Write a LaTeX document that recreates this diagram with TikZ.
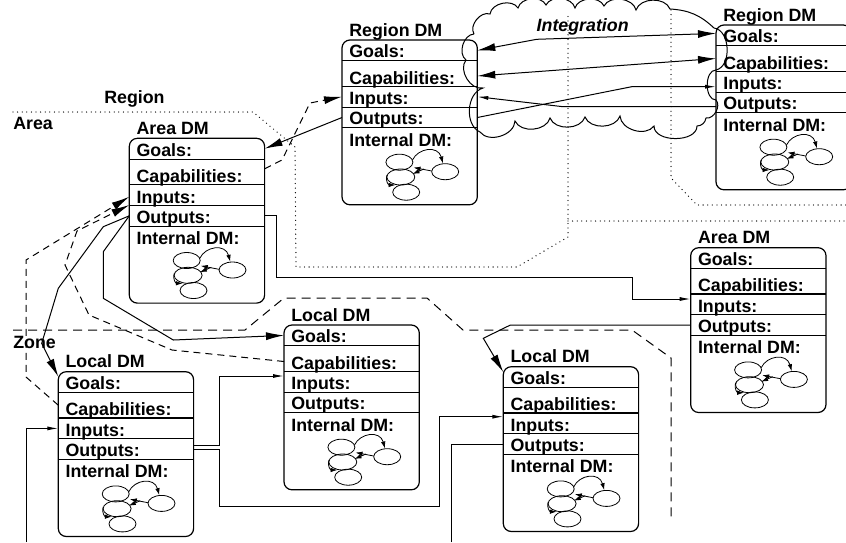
\documentclass[tikz,border=0pt]{standalone}
\usepackage{fontspec}
\setmainfont{Liberation Sans}
\usetikzlibrary{arrows.meta,calc}

\tikzset{
  lbl/.style={anchor=base west, inner sep=0pt, outer sep=0pt,
              font=\bfseries\fontsize{17.8}{20}\selectfont},
  boxline/.style={line width=1.2pt},
  wire/.style={line width=1pt},
  graphline/.style={line width=0.8pt},
  bigtip/.style={-{Latex[length=18pt,width=8pt]}},
  bothbig/.style={{Latex[length=18pt,width=8pt]}-{Latex[length=18pt,width=8pt]}},
  smalltip/.style={-{Latex[length=11pt,width=4pt]}},
  graphtip/.style={-{Latex[length=7pt,width=4.5pt]}},
  zonedash/.style={line width=1pt, dash pattern=on 9pt off 6pt},
  linkdash/.style={line width=1pt, dash pattern=on 7pt off 5pt},
  regiondot/.style={line width=1.3pt, line cap=round, dash pattern=on 0pt off 4.6pt},
  % decision-maker box: title, five rows and a small internal graph
  dmbox/.pic={
    \draw[boxline, rounded corners=8pt] (0,0) rectangle (135.3,164.8);
    \draw[boxline] (0,20.8) -- (135.3,20.8)
                   (0,46.3) -- (135.3,46.3)
                   (0,67.1) -- (135.3,67.1)
                   (0,87.8) -- (135.3,87.8);
    \node[lbl] (-title) at (7.3,-3.9) {#1};
    \node[lbl] (-goals) at (7.3,17.9) {Goals:};
    \node[lbl] (-caps)  at (7.3,44.2) {Capabilities:};
    \node[lbl] (-ins)   at (7.3,64.8) {Inputs:};
    \node[lbl] (-outs)  at (7.3,84.8) {Outputs:};
    \node[lbl] (-int)   at (7.3,106)  {Internal DM:};
    \coordinate (-gw) at (0,10.4);     \coordinate (-ge) at (135.3,10.4);
    \coordinate (-cw) at (0,33.5);     \coordinate (-ce) at (135.3,33.5);
    \coordinate (-iw) at (0,56.7);     \coordinate (-ie) at (135.3,56.7);
    \coordinate (-ow) at (0,77.5);     \coordinate (-oe) at (135.3,77.5);
    % internal graph
    \draw[graphline] (57.4,122.2) ellipse [x radius=13.5pt, y radius=8pt];
    \draw[graphline] (58.8,137)   ellipse [x radius=14pt, y radius=8pt];
    \draw[graphline] (64.2,152.2) ellipse [x radius=13.5pt, y radius=8pt];
    \draw[graphline] (103.2,131.7) ellipse [x radius=13.5pt, y radius=8pt];
    \draw[graphline, graphtip] (70.5,120) .. controls (76,108) and (96,105) .. (101,123.5);
    \draw[graphline, graphtip] (89.7,131) -- (71.5,127.5);
    \draw[graphline, graphtip] (82,129) -- (70.5,134);
    \draw[graphline, graphtip] (45,135) .. controls (43,142) and (47,145) .. (53.5,145);
  }
}

\begin{document}
\begin{tikzpicture}[x=1pt,y=-1pt]
\clip (0,0) rectangle (846,542);

% level boundaries
\draw[regiondot] (13,112) -- (253,112) -- (295,147) -- (296,267) -- (517,267)
                 -- (568,237) -- (568,12);
\draw[regiondot] (568,221) -- (846,221);
\draw[regiondot] (671,10) -- (671,178) -- (697,205) -- (846,205);
\draw[zonedash] (13,330) -- (245,330) -- (284,298) -- (427,298) -- (463,330)
                -- (632,330) -- (671,358) -- (671,517);

\node[lbl] (lregion) at (104.3,103.1) {Region};
\node[lbl] (larea)   at (13.3,129.7)  {Area};
\node[lbl] (lzone)   at (13.3,348.1)  {Zone};

% decision makers
\pic (rdm)  at (342,40)      {dmbox=Region DM};
\pic (rdmb) at (716,25)      {dmbox=Region DM};
\pic (adm)  at (129.3,138.3) {dmbox=Area DM};
\pic (admb) at (690.7,247.7) {dmbox=Area DM};
\pic (lzl)  at (58.3,371.7)  {dmbox=Local DM};
\pic (lzc)  at (284,325)     {dmbox=Local DM};
\pic (lzr)  at (503.3,366.7) {dmbox=Local DM};

% integration cloud between the two regions
\draw[wire] (474,34)
  to[bend left=70] (490,14)
  to[bend left=70] (518,8)
  to[bend left=70] (546,5)
  to[bend left=70] (575,8)
  to[bend left=70] (604,6)
  to[bend left=70] (636,10)
  to[bend left=70] (670,9)
  to[bend left=20] (714,28)
  to[bend left=80] (716,70)
  to[bend right=90] (716,100)
  to[bend left=70] (706,118)
  to[bend left=40] (697,126)
  to[bend left=90] (654,126)
  to[bend left=70] (620,116)
  to[bend left=70] (585,117)
  to[bend left=70] (550,118)
  to[bend left=70] (515,121)
  to[bend left=70] (480,132)
  to[bend left=70] (483,88)
  to[bend left=70] (466,60)
  to[bend left=70] (474,34);
\node[lbl, font=\bfseries\itshape\fontsize{17.8}{20}\selectfont] (lint) at (536.7,31.4) {Integration};

% region-to-region links
\draw[wire, bothbig] (rdm-ge) -- (536.7,39.3) -- ([yshift=2pt]rdmb-gw);
\draw[wire, bothbig] ([yshift=-2.5pt]rdm-ce) -- (rdmb-cw);
\draw[wire, smalltip] ([yshift=-4.2pt]rdmb-ow) -- (563,106.7) -- (rdm-ie);
\draw[wire, smalltip] (rdm-oe) -- (631.7,86.7) -- ([yshift=-5pt]rdmb-iw);

% region to area
\draw[wire, bigtip] (rdm-ow) -- (adm-ge);
\draw[linkdash, bigtip] ([yshift=3pt]adm-ce) -- (282,160) -- (310,103) -- (rdm-iw);

% area to area
\draw[wire, smalltip] (adm-oe) -| (276.7,277.7) -| (632.5,299) -- ([yshift=5.4pt]admb-iw);

% local to area (dashed)
\draw[linkdash, bigtip] (lzl-cw) -- (26,377) -- (26,260) -- ([yshift=-1.7pt]adm-iw);
\draw[linkdash, bigtip] ([yshift=-3pt]lzc-cw) -- (172,350) -- (89,315) -- (65,265)
                        -- (77,231) -- ([yshift=-10pt]adm-iw);

% area to local
\draw[wire, bigtip] (adm-ow) -- (103.3,226.7) -- (58.3,288.3) -- (41.7,343.3)
                    -- ([yshift=5.4pt]lzl-gw);
\draw[wire, bigtip] (adm-ow) -- (103.3,251.7) -- (103.3,298.3) -- (173.3,340) -- (lzc-gw);
\draw[wire, bigtip] (admb-ow) -- (510,325.2) -- (483.3,338.3) -- ([yshift=5pt]lzr-gw);

% local to local
\draw[wire, smalltip] ([yshift=4.2pt]lzl-oe) -| (219.3,376) -- ([yshift=5.7pt]lzc-iw);
\draw[wire, smalltip] (lzl-oe) -| (219.3,506) -| (439,416.7) -- ([yshift=6.7pt]lzr-iw);

% links leaving the picture
\coordinate (feedA) at (26,542);
\coordinate (feedB) at (451.7,542);
\draw[wire, smalltip] (feedA) |- (lzl-iw);
\draw[wire] (feedB) |- (lzr-ow);
\end{tikzpicture}
\end{document}
